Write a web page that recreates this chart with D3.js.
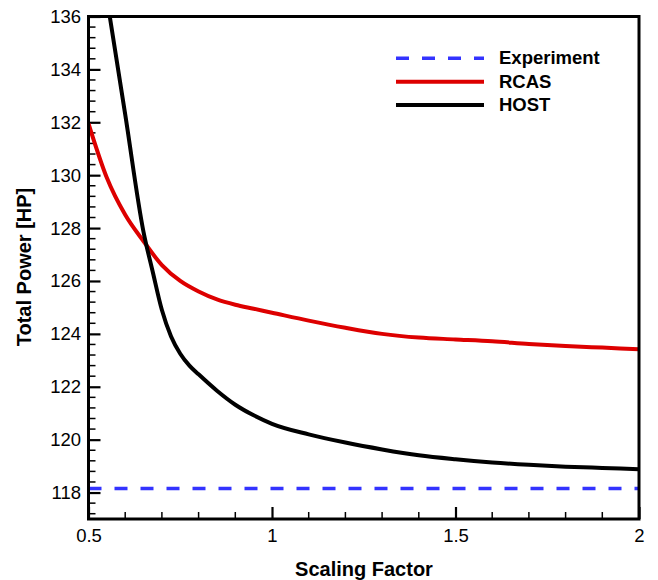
<!DOCTYPE html>
<html>
<head>
<meta charset="utf-8">
<script src="https://cdn.jsdelivr.net/npm/d3@7"></script>
<style>
  html, body { margin: 0; padding: 0; background: #fff; }
  svg { display: block; font-family: "Liberation Sans", Arial, sans-serif; }
</style>
</head>
<body>
<svg id="chart" width="658" height="580"></svg>
<script>
// ---- data ----
const factor = [0.5, 0.55, 0.6, 0.65, 0.7, 0.75, 0.8, 0.85, 0.9, 0.95, 1.0, 1.1, 1.2, 1.3, 1.4, 1.5, 1.6, 1.7, 1.8, 1.9, 2.0];
const rcas   = [131.95, 129.9, 128.5, 127.5, 126.6, 126.0, 125.6, 125.3, 125.1, 124.95, 124.8, 124.5, 124.23, 124.0, 123.86, 123.79, 123.72, 123.62, 123.54, 123.48, 123.42];
const hostF  = [0.55, 0.6, 0.65, 0.675, 0.7, 0.725, 0.75, 0.775, 0.8, 0.85, 0.9, 0.95, 1.0, 1.1, 1.2, 1.3, 1.4, 1.5, 1.6, 1.7, 1.8, 1.9, 2.0];
const host   = [136.7, 132.3, 127.85, 126.35, 124.9, 123.9, 123.25, 122.8, 122.47, 121.85, 121.32, 120.92, 120.6, 120.2, 119.89, 119.63, 119.41, 119.26, 119.14, 119.05, 118.98, 118.93, 118.88];
const experimentValue = 118.15;
const xTicks = [0.5, 1, 1.5, 2];
const xTickLabels = ["0.5", "1", "1.5", "2"];
const yTicks = [118, 120, 122, 124, 126, 128, 130, 132, 134, 136];
const legendNames = ["Experiment", "RCAS", "HOST"];

// ---- layout ----
const svg = d3.select("#chart");
const L = 88.5, R = 639, T = 16.5, B = 519;
const x = d3.scaleLinear().domain([0.5, 2]).range([L, R]);
const y = d3.scaleLinear().domain([117, 136]).range([B, T]);

svg.append("defs").append("clipPath").attr("id", "clip")
  .append("rect").attr("x", L).attr("y", T).attr("width", R - L).attr("height", B - T);

// minor ticks
const xMinor = d3.range(0.5, 2.0001, 0.1).filter(v => !xTicks.some(t => Math.abs(t - v) < 1e-6));
const yMinor = d3.range(117.2, 136, 0.4).filter(v => !yTicks.some(t => Math.abs(t - v) < 1e-6));

const gx = svg.append("g").attr("transform", `translate(0,${B})`)
  .call(d3.axisBottom(x).tickValues(xTicks).tickFormat((d, i) => xTickLabels[i]).tickSizeInner(-12).tickSizeOuter(0).tickPadding(10));
gx.selectAll(".tick line").attr("stroke", "#000").attr("stroke-width", 2.2);
gx.select(".domain").remove();
gx.selectAll("text").attr("font-size", 18.5).attr("fill", "#000").attr("font-family", "Liberation Sans, Arial, sans-serif");
svg.append("g").selectAll("line").data(xMinor).join("line")
  .attr("x1", d => x(d)).attr("x2", d => x(d)).attr("y1", B).attr("y2", B - 7)
  .attr("stroke", "#000").attr("stroke-width", 1.5);

const gy = svg.append("g").attr("transform", `translate(${L},0)`)
  .call(d3.axisLeft(y).tickValues(yTicks).tickFormat(d3.format("d")).tickSizeInner(-12).tickSizeOuter(0).tickPadding(7.5));
gy.selectAll(".tick line").attr("stroke", "#000").attr("stroke-width", 2.2);
gy.select(".domain").remove();
gy.selectAll("text").attr("font-size", 18.5).attr("fill", "#000").attr("font-family", "Liberation Sans, Arial, sans-serif");
svg.append("g").selectAll("line").data(yMinor).join("line")
  .attr("x1", L).attr("x2", L + 7).attr("y1", d => y(d)).attr("y2", d => y(d))
  .attr("stroke", "#000").attr("stroke-width", 1.5);

// series
const plot = svg.append("g").attr("clip-path", "url(#clip)");
const line = d3.line().x(d => x(d[0])).y(d => y(d[1])).curve(d3.curveMonotoneX);

plot.append("line")
  .attr("x1", x(0.5)).attr("x2", x(2)).attr("y1", y(experimentValue)).attr("y2", y(experimentValue))
  .attr("stroke", "#3333ff").attr("stroke-width", 3.5).attr("stroke-dasharray", "13,13");
plot.append("path").datum(factor.map((f, i) => [f, rcas[i]]))
  .attr("d", line).attr("fill", "none").attr("stroke", "#dd0000").attr("stroke-width", 4);
plot.append("path").datum(hostF.map((f, i) => [f, host[i]]))
  .attr("d", line).attr("fill", "none").attr("stroke", "#000").attr("stroke-width", 4);

// frame
svg.append("rect").attr("x", L).attr("y", T).attr("width", R - L).attr("height", B - T)
  .attr("fill", "none").attr("stroke", "#000").attr("stroke-width", 3);

// axis titles
svg.append("text").attr("x", 364).attr("y", 576).attr("text-anchor", "middle")
  .attr("font-size", 20).attr("font-weight", "bold").text("Scaling Factor");
svg.append("text").attr("transform", "translate(31,267) rotate(-90)").attr("text-anchor", "middle")
  .attr("font-size", 20).attr("font-weight", "bold").text("Total Power [HP]");

// legend
const legStyles = [
  { color: "#3333ff", dash: "13,13" },
  { color: "#dd0000", dash: null },
  { color: "#000", dash: null }
];
const legYs = [58.3, 81.7, 105];
const lg = svg.append("g");
legendNames.forEach((name, i) => {
  lg.append("line").attr("x1", 396).attr("x2", 484).attr("y1", legYs[i]).attr("y2", legYs[i])
    .attr("stroke", legStyles[i].color).attr("stroke-width", i === 0 ? 3.5 : 4)
    .attr("stroke-dasharray", legStyles[i].dash);
  lg.append("text").attr("x", 499).attr("y", legYs[i] + 6).attr("font-size", 18.5)
    .attr("font-weight", "bold").text(name);
});
</script>
</body>
</html>
